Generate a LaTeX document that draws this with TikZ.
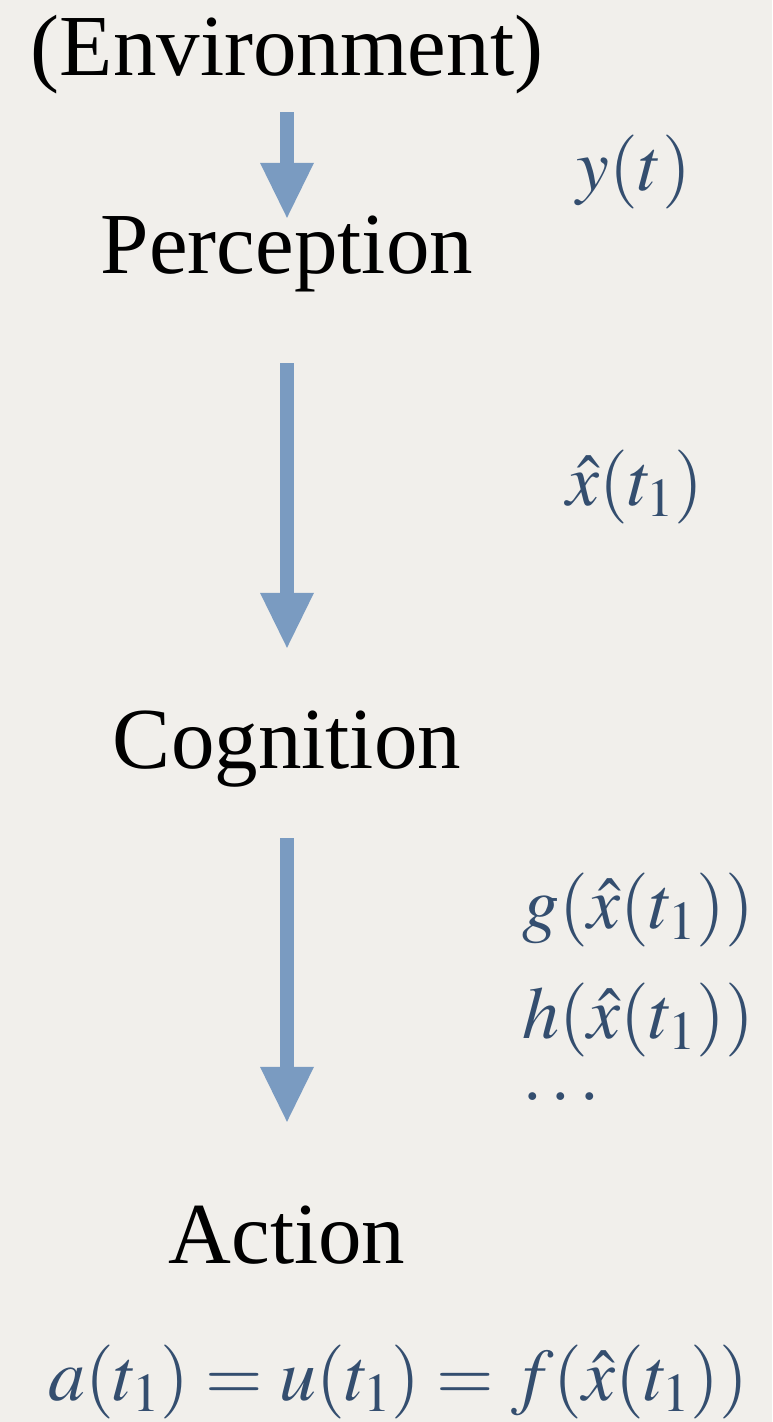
\documentclass[tikz,border=0pt]{standalone}
\usepackage{mathptmx}
\usepackage[no-math]{fontspec}
\setmainfont{Liberation Serif}
\usetikzlibrary{arrows.meta}
\definecolor{paper}{RGB}{241,239,235}
\definecolor{flowblue}{RGB}{122,155,193}
\definecolor{mathblue}{RGB}{52,78,111}

\begin{document}
\begin{tikzpicture}[x=1pt, y=-1pt,
    stage/.style={inner sep=0pt, anchor=base, text height=55pt, text depth=20pt, font=\fontsize{87}{90}\selectfont},
    var/.style={inner sep=0pt, text=mathblue, font=\fontsize{74}{78}\selectfont},
    flow/.style={-{Triangle[width=54pt, length=55pt, line width=0pt]}, line width=14pt, draw=flowblue}
]
\fill[paper] (0,0) rectangle (772,1422);
\useasboundingbox (0,0) rectangle (772,1422);

\node[stage] (env) at (287,75) {(Environment)};
\node[stage] (perc) at (287,273) {Perception};
\node[stage] (cog) at (287,768) {Cognition};
\node[stage] (act) at (287,1263) {Action};

\node[var, anchor=base] (yt) at (634,190) {$y(t)$};
\node[var, anchor=base] (xhat) at (635,505) {$\hat{x}(t_1)$};
\node[var, anchor=base west] (gx) at (522,928) {$g(\hat{x}(t_1))$};
\node[var, anchor=base west] (hx) at (522,1038) {$h(\hat{x}(t_1))$};
\node[var, anchor=base west] (more) at (522,1100) {$\dots$};
\node[var, anchor=base] (law) at (398,1400) {$a(t_1) = u(t_1) = f(\hat{x}(t_1))$};

\draw[flow, shorten <=17pt] (env) -- (perc);
\draw[flow, shorten <=70pt, shorten >=65pt] (perc) -- (cog);
\draw[flow, shorten <=50pt, shorten >=86pt] (cog) -- (act);
\end{tikzpicture}
\end{document}
